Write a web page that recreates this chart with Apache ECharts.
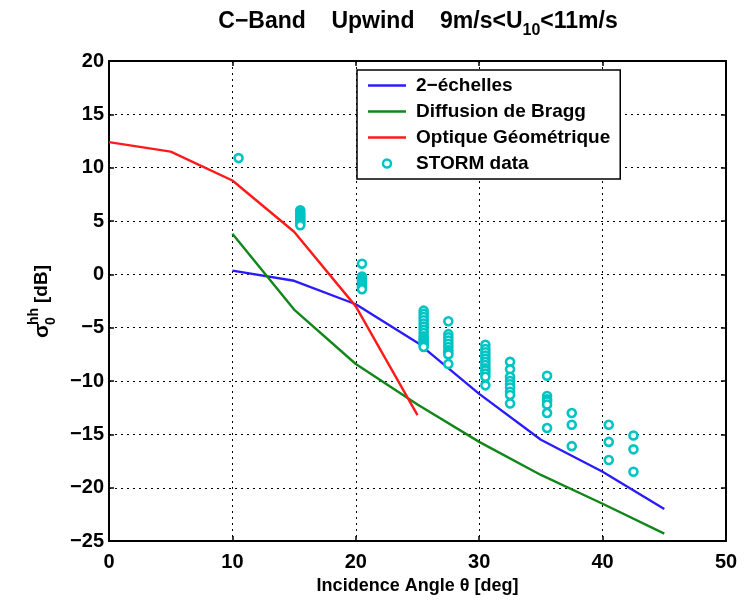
<!DOCTYPE html>
<html>
<head>
<meta charset="utf-8">
<script src="https://cdn.jsdelivr.net/npm/echarts@6/dist/echarts.min.js"></script>
<style>html,body{margin:0;padding:0;background:#fff;}#c{width:751px;height:600px;}</style>
</head>
<body>
<div id="c"></div>
<script>
// Data
const xTicks = [0, 10, 20, 30, 40, 50];
const yTicks = [-25, -20, -15, -10, -5, 0, 5, 10, 15, 20];

const twoScaleX = [10, 15, 20, 25, 30, 35, 40, 45];
const twoScaleY = [0.35, -0.6, -2.8, -6.4, -11.2, -15.5, -18.5, -22.0];

const braggX = [10, 15, 20, 25, 30, 35, 40, 45];
const braggY = [3.8, -3.3, -8.4, -12.2, -15.7, -18.8, -21.5, -24.3];

const goX = [0, 5, 10, 15, 20, 25];
const goY = [12.4, 11.5, 8.8, 4.0, -3.0, -13.2];

const stormX = [10.5,
  15.5, 15.5, 15.5, 15.5, 15.5, 15.5, 15.5, 15.5,
  20.5, 20.5, 20.5, 20.5, 20.5, 20.5, 20.5, 20.5,
  25.5, 25.5, 25.5, 25.5, 25.5, 25.5, 25.5, 25.5, 25.5, 25.5, 25.5, 25.5, 25.5, 25.5,
  27.5, 27.5, 27.5, 27.5, 27.5, 27.5, 27.5, 27.5, 27.5, 27.5,
  30.5, 30.5, 30.5, 30.5, 30.5, 30.5, 30.5, 30.5, 30.5, 30.5, 30.5, 30.5,
  32.5, 32.5, 32.5, 32.5, 32.5, 32.5, 32.5, 32.5, 32.5,
  35.5, 35.5, 35.5, 35.5, 35.5, 35.5, 35.5,
  37.5, 37.5, 37.5,
  40.5, 40.5, 40.5,
  42.5, 42.5, 42.5];
const stormY = [10.9,
  6.0, 5.8, 5.6, 5.4, 5.2, 5.0, 4.8, 4.6,
  1.0, -0.2, -0.4, -0.6, -0.8, -1.0, -1.2, -1.4,
  -3.4, -3.7, -4.0, -4.3, -4.6, -4.9, -5.2, -5.5, -5.8, -6.0, -6.2, -6.4, -6.6, -6.8,
  -4.4, -5.6, -5.9, -6.2, -6.5, -6.8, -7.1, -7.3, -7.5, -8.4,
  -6.6, -7.0, -7.3, -7.6, -7.9, -8.2, -8.5, -8.8, -9.0, -9.3, -9.6, -10.4,
  -8.2, -8.9, -9.6, -10.0, -10.3, -10.6, -11.0, -11.3, -12.1,
  -9.5, -11.4, -11.7, -11.9, -12.2, -13.0, -14.4,
  -13.0, -14.1, -16.1,
  -14.1, -15.7, -17.4,
  -15.1, -16.4, -18.5];

const zip = (xs, ys) => xs.map((x, i) => [x, ys[i]]);
const FONT = 'Liberation Sans, Arial, Helvetica, sans-serif';
const fmt = v => String(v).replace('-', '\u2212');
const LINE_ICON = 'path://M0,0H38V2.5H0Z';

const chart = echarts.init(document.getElementById('c'));
const gridLine = { show: true, lineStyle: { color: '#000', type: [2, 4], width: 1 } };
const baseAxis = () => ({
  type: 'value',
  axisLine: { show: true, onZero: false, lineStyle: { color: '#000', width: 2 } },
  axisTick: { show: true, inside: true, length: 5, lineStyle: { color: '#000', width: 1.5 } },
});

chart.setOption({
  animation: false,
  backgroundColor: '#fff',
  title: {
    text: '{a|C\u2212Band    Upwind    9m/s<U}{b|10}{a|<11m/s}',
    left: 413, top: 5, textAlign: 'center',
    textStyle: {
      rich: {
        a: { fontFamily: FONT, fontWeight: 'bold', fontSize: 23, color: '#000', verticalAlign: 'top', lineHeight: 26 },
        b: { fontFamily: FONT, fontWeight: 'bold', fontSize: 16, color: '#000', padding: [16, 0, 0, 0], lineHeight: 26 }
      }
    }
  },
  grid: { left: 109, right: 25, top: 61, bottom: 55, containLabel: false },
  xAxis: [
    Object.assign(baseAxis(), {
      min: 0, max: 50, interval: 10, position: 'bottom',
      splitLine: gridLine,
      axisLabel: { color: '#000', fontFamily: FONT, fontWeight: 'bold', fontSize: 20, margin: 11, formatter: fmt },
      name: 'Incidence Angle \u03b8 [deg]', nameLocation: 'middle', nameGap: 32,
      nameTextStyle: { color: '#000', fontFamily: FONT, fontWeight: 'bold', fontSize: 18 }
    }),
    Object.assign(baseAxis(), {
      min: 0, max: 50, interval: 10, position: 'top',
      splitLine: { show: false }, axisLabel: { show: false }
    })
  ],
  yAxis: [
    Object.assign(baseAxis(), {
      min: -25, max: 20, interval: 5, position: 'left',
      splitLine: gridLine,
      axisLabel: { color: '#000', fontFamily: FONT, fontWeight: 'bold', fontSize: 20, margin: 5, formatter: fmt }
    }),
    Object.assign(baseAxis(), {
      min: -25, max: 20, interval: 5, position: 'right',
      splitLine: { show: false }, axisLabel: { show: false }
    })
  ],
  legend: {
    orient: 'vertical', left: 357, top: 70,
    backgroundColor: '#fff', borderColor: '#000', borderWidth: 1.5, borderRadius: 0,
    padding: [6, 10, 6, 11],
    itemWidth: 38, itemHeight: 8, itemGap: 7,
    textStyle: { color: '#000', fontFamily: FONT, fontWeight: 'bold', fontSize: 19, padding: [0, 0, 0, 5] },
    data: [
      { name: '2\u2212\u00e9chelles', icon: LINE_ICON },
      { name: 'Diffusion de Bragg', icon: LINE_ICON },
      { name: 'Optique G\u00e9om\u00e9trique', icon: LINE_ICON },
      { name: 'STORM data', icon: 'circle', itemStyle: { color: '#fff', borderColor: '#00c4c4', borderWidth: 2.5 } }
    ]
  },
  graphic: [{
    type: 'group', x: 42, y: 338, rotation: Math.PI / 2,
    children: [
      { type: 'text', x: 0, y: 0, style: { text: '\u03c3', font: 'bold 21px ' + FONT, fill: '#000', textVerticalAlign: 'middle' } },
      { type: 'text', x: 13, y: -8, style: { text: 'hh', font: 'bold 14px ' + FONT, fill: '#000', textVerticalAlign: 'middle' } },
      { type: 'text', x: 13, y: 9, style: { text: '0', font: 'bold 14px ' + FONT, fill: '#000', textVerticalAlign: 'middle' } },
      { type: 'text', x: 35, y: 0, style: { text: '[dB]', font: 'bold 19px ' + FONT, fill: '#000', textVerticalAlign: 'middle' } }
    ]
  }],
  series: [
    { name: '2\u2212\u00e9chelles', type: 'line', data: zip(twoScaleX, twoScaleY), symbol: 'none',
      lineStyle: { color: '#2b1cff', width: 2.4 }, itemStyle: { color: '#2b1cff' }, z: 3 },
    { name: 'Diffusion de Bragg', type: 'line', data: zip(braggX, braggY), symbol: 'none',
      lineStyle: { color: '#11871a', width: 2.4 }, itemStyle: { color: '#11871a' }, z: 3 },
    { name: 'Optique G\u00e9om\u00e9trique', type: 'line', data: zip(goX, goY), symbol: 'none',
      lineStyle: { color: '#ff1a1a', width: 2.4 }, itemStyle: { color: '#ff1a1a' }, z: 3 },
    { name: 'STORM data', type: 'scatter', data: zip(stormX, stormY), symbol: 'circle', symbolSize: 8,
      itemStyle: { color: '#fff', borderColor: '#00c4c4', borderWidth: 2.6, opacity: 1 }, z: 4 }
  ]
});
</script>
</body>
</html>
